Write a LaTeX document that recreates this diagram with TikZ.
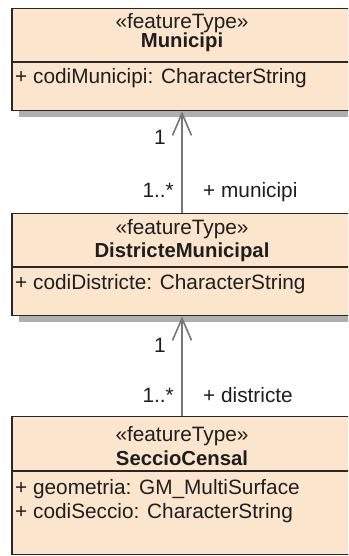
\documentclass[tikz,border=0pt]{standalone}
\usepackage{fontspec}
\setmainfont{Liberation Sans}
\usetikzlibrary{arrows.meta}
\definecolor{boxfill}{RGB}{252,229,205}
\definecolor{boxline}{RGB}{40,40,40}
\definecolor{shadowc}{RGB}{175,175,175}
\definecolor{arrowc}{RGB}{118,118,118}
\definecolor{txt}{RGB}{30,30,30}
\begin{document}
\begin{tikzpicture}[x=1pt,y=-1pt,
  every node/.style={font=\fontsize{20.8}{25}\selectfont, text=txt, inner sep=0pt},
  classbox/.style={draw=boxline, line width=1.4pt, fill=boxfill, minimum width=340pt, anchor=north},
  shadowbox/.style={fill=shadowc},
  sepline/.style={draw=boxline, line width=1.4pt},
  stereo/.style={anchor=base},
  cname/.style={anchor=base, font=\fontsize{20.3}{25}\selectfont\bfseries},
  attr/.style={anchor=base west},
  lbl/.style={anchor=base east},
  assoc/.style={draw=arrowc, line width=2pt, -{Straight Barb[length=22pt,width=19pt,line width=1.6pt]}}
]
\useasboundingbox (0,0) rectangle (348,556);
\clip (0,0) rectangle (348,556);
\fill[white] (0,0) rectangle (348,556);

% shadows
\fill[shadowbox] (19,15) rectangle (360,117);
\fill[shadowbox] (19,220) rectangle (360,322);

% boxes
\node[classbox, minimum height=102pt] (m) at (182,8) {};
\node[classbox, minimum height=102pt] (d) at (182,213) {};
\node[classbox, minimum height=138pt] (s) at (182,416) {};

\draw[sepline] (m.west |- 0,62) -- (m.east |- 0,62);
\draw[sepline] (d.west |- 0,267) -- (d.east |- 0,267);
\draw[sepline] (s.west |- 0,471) -- (s.east |- 0,471);

% texts box 1
\node[stereo] (m1) at (182,29) {«featureType»};
\node[cname] (m2) at (182,48) {Municipi};
\node[attr] (m3) at (15,84) {+ codiMunicipi: CharacterString};

% texts box 2
\node[stereo] (d1) at (182,234) {«featureType»};
\node[cname] (d2) at (182,257) {DistricteMunicipal};
\node[attr] (d3) at (15,289) {+ codiDistricte: CharacterString};

% texts box 3
\node[stereo] (s1) at (182,441) {«featureType»};
\node[cname] (s2) at (182,465) {SeccioCensal};
\node[attr] (s3) at (15,494) {+ geometria: GM\_MultiSurface};
\node[attr] (s4) at (15,518) {+ codiSeccio: CharacterString};

% associations
\draw[assoc] (d.north) -- (m.south);
\draw[assoc] (s.north) -- (d.south);

% labels
\node[lbl] (l1) at (166,145) {1};
\node[lbl] (l2) at (174,197) {1..*};
\node[attr] (l3) at (203,197) {+ municipi};
\node[lbl] (l4) at (166,352) {1};
\node[lbl] (l5) at (174,402) {1..*};
\node[attr] (l6) at (203,402) {+ districte};
\end{tikzpicture}
\end{document}
